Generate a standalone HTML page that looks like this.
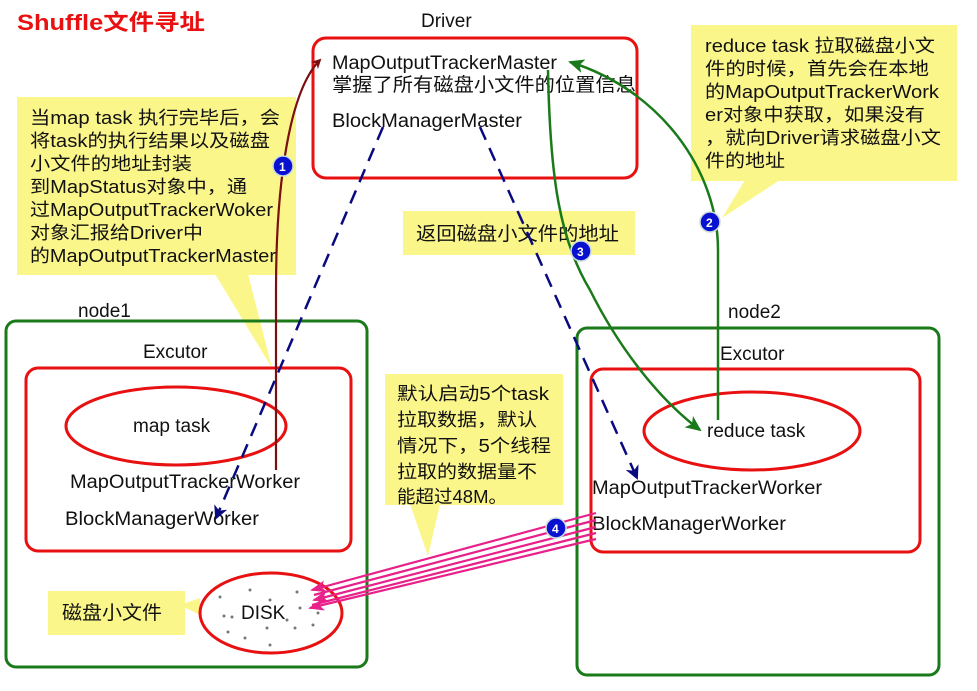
<!DOCTYPE html>
<html><head><meta charset="utf-8"><style>
html,body{margin:0;padding:0;background:#fff;}
svg{display:block;}
text{font-family:"Liberation Sans","Noto Sans CJK SC",sans-serif;fill:#111;font-size:18px;}
</style></head><body>
<svg width="977" height="691" viewBox="0 0 977 691" xmlns="http://www.w3.org/2000/svg">
<defs>
<marker id="ar" markerWidth="10" markerHeight="10" refX="8" refY="5" orient="auto" markerUnits="userSpaceOnUse"><path d="M0,0 L10,5 L0,10 L3,5 z" fill="#7a1010"/></marker>
<marker id="ab" markerWidth="14" markerHeight="14" refX="12" refY="7" orient="auto" markerUnits="userSpaceOnUse"><path d="M0,0 L14,7 L0,14 L4,7 z" fill="#0a0a80"/></marker>
<marker id="ag" markerWidth="16" markerHeight="14" refX="14" refY="7" orient="auto" markerUnits="userSpaceOnUse"><path d="M0,0 L16,7 L0,14 L4,7 z" fill="#1a7a1a"/></marker>
<marker id="ap" markerWidth="16" markerHeight="12" refX="14" refY="6" orient="auto" markerUnits="userSpaceOnUse"><path d="M0,0 L16,6 L0,12 L4,6 z" fill="#e8208a"/></marker>
</defs>

<text x="17" y="30" textLength="188" lengthAdjust="spacingAndGlyphs" style="font-size:22px;font-weight:bold;fill:#e81010">Shuffle文件寻址</text>

<!-- Driver -->
<text x="421" y="27" style="font-size:19px">Driver</text>
<rect x="313" y="38" width="324" height="140" rx="13" fill="none" stroke="#e81010" stroke-width="3"/>
<text x="332" y="69" textLength="225" lengthAdjust="spacingAndGlyphs" style="font-size:19px">MapOutputTrackerMaster</text>
<text x="332" y="91" textLength="304" lengthAdjust="spacingAndGlyphs" style="font-size:19px">掌握了所有磁盘小文件的位置信息</text>
<text x="332" y="127" textLength="190" lengthAdjust="spacingAndGlyphs" style="font-size:19px">BlockManagerMaster</text>

<!-- left callout -->
<polygon points="215,274 248,274 272,368" fill="#fbf68a"/>
<rect x="17" y="97" width="279" height="178" fill="#fbf68a"/>
<g style="font-size:18px">
<text x="30" y="124" textLength="250" lengthAdjust="spacingAndGlyphs">当map task 执行完毕后，会</text>
<text x="30" y="147" textLength="240" lengthAdjust="spacingAndGlyphs">将task的执行结果以及磁盘</text>
<text x="30" y="170" textLength="162" lengthAdjust="spacingAndGlyphs">小文件的地址封装</text>
<text x="30" y="193" textLength="217" lengthAdjust="spacingAndGlyphs">到MapStatus对象中，通</text>
<text x="30" y="216" textLength="243" lengthAdjust="spacingAndGlyphs">过MapOutputTrackerWoker</text>
<text x="30" y="239" textLength="173" lengthAdjust="spacingAndGlyphs">对象汇报给Driver中</text>
<text x="30" y="262" textLength="246" lengthAdjust="spacingAndGlyphs">的MapOutputTrackerMaster</text>
</g>

<!-- right callout -->
<polygon points="745,180 780,180 722,218" fill="#fbf68a"/>
<rect x="691" y="25" width="266" height="156" fill="#fbf68a"/>
<g style="font-size:18px">
<text x="705" y="52" textLength="230" lengthAdjust="spacingAndGlyphs">reduce task 拉取磁盘小文</text>
<text x="705" y="75" textLength="224" lengthAdjust="spacingAndGlyphs">件的时候，首先会在本地</text>
<text x="705" y="98" textLength="234" lengthAdjust="spacingAndGlyphs">的MapOutputTrackerWork</text>
<text x="705" y="121" textLength="220" lengthAdjust="spacingAndGlyphs">er对象中获取，如果没有</text>
<text x="705" y="144" textLength="236" lengthAdjust="spacingAndGlyphs">，就向Driver请求磁盘小文</text>
<text x="705" y="167" textLength="80" lengthAdjust="spacingAndGlyphs">件的地址</text>
</g>

<rect x="403" y="211" width="232" height="44" fill="#fbf68a"/>
<text x="416" y="240" textLength="203" lengthAdjust="spacingAndGlyphs" style="font-size:19px">返回磁盘小文件的地址</text>

<!-- node1 -->
<text x="78" y="317" style="font-size:19px">node1</text>
<rect x="6" y="321" width="361" height="346" rx="10" fill="none" stroke="#1a7a1a" stroke-width="3"/>
<text x="143" y="358" style="font-size:19px">Excutor</text>
<rect x="26" y="368" width="325" height="183" rx="12" fill="none" stroke="#e81010" stroke-width="3"/>
<ellipse cx="176" cy="426" rx="110" ry="39" fill="none" stroke="#e81010" stroke-width="3"/>
<text x="133" y="432" style="font-size:19px">map task</text>
<text x="70" y="488" textLength="230" lengthAdjust="spacingAndGlyphs" style="font-size:19px">MapOutputTrackerWorker</text>
<text x="65" y="525" textLength="194" lengthAdjust="spacingAndGlyphs" style="font-size:19px">BlockManagerWorker</text>

<!-- node2 -->
<text x="728" y="318" style="font-size:19px">node2</text>
<rect x="577" y="328" width="362" height="347" rx="10" fill="none" stroke="#1a7a1a" stroke-width="3"/>
<text x="720" y="360" style="font-size:19px">Excutor</text>
<rect x="591" y="369" width="329" height="183" rx="12" fill="none" stroke="#e81010" stroke-width="3"/>
<ellipse cx="752" cy="431" rx="108" ry="39" fill="none" stroke="#e81010" stroke-width="3"/>
<text x="707" y="437" style="font-size:19px">reduce task</text>
<text x="592" y="494" textLength="230" lengthAdjust="spacingAndGlyphs" style="font-size:19px">MapOutputTrackerWorker</text>
<text x="592" y="530" textLength="194" lengthAdjust="spacingAndGlyphs" style="font-size:19px">BlockManagerWorker</text>

<!-- middle callout -->
<polygon points="410,504 440,504 428,556" fill="#fbf68a"/>
<rect x="385" y="374" width="178" height="131" fill="#fbf68a"/>
<g style="font-size:18px">
<text x="397" y="400" textLength="152" lengthAdjust="spacingAndGlyphs">默认启动5个task</text>
<text x="397" y="426" textLength="140" lengthAdjust="spacingAndGlyphs">拉取数据，默认</text>
<text x="397" y="452" textLength="154" lengthAdjust="spacingAndGlyphs">情况下，5个线程</text>
<text x="397" y="478" textLength="140" lengthAdjust="spacingAndGlyphs">拉取的数据量不</text>
<text x="397" y="503" textLength="110" lengthAdjust="spacingAndGlyphs">能超过48M。</text>
</g>

<!-- disk -->
<polygon points="180,605 200,598 200,615" fill="#fbf68a"/>
<rect x="48" y="591" width="137" height="44" fill="#fbf68a"/>
<text x="62" y="619" textLength="100" lengthAdjust="spacingAndGlyphs" style="font-size:19px">磁盘小文件</text>
<ellipse cx="271" cy="613" rx="71" ry="40" fill="#fff" stroke="#e81010" stroke-width="3"/>
<text x="241" y="619" style="font-size:19px">DISK</text>
<g fill="#777">
<circle cx="220" cy="597" r="1.5"/><circle cx="250" cy="590" r="1.5"/><circle cx="270" cy="600" r="1.5"/><circle cx="297" cy="592" r="1.5"/><circle cx="300" cy="608" r="1.5"/><circle cx="318" cy="613" r="1.5"/><circle cx="224" cy="616" r="1.5"/><circle cx="232" cy="617" r="1.5"/><circle cx="228" cy="632" r="1.5"/><circle cx="245" cy="638" r="1.5"/><circle cx="267" cy="628" r="1.5"/><circle cx="270" cy="645" r="1.5"/><circle cx="295" cy="628" r="1.5"/><circle cx="313" cy="625" r="1.5"/><circle cx="287" cy="620" r="1.5"/>
</g>

<!-- connectors -->
<path d="M276,470 L276,290 C276,180 290,90 320,60" fill="none" stroke="#7a1010" stroke-width="2.2" marker-end="url(#ar)"/>
<line x1="383" y1="127" x2="216" y2="518" stroke="#0a0a80" stroke-width="2.5" stroke-dasharray="14,9" marker-end="url(#ab)"/>
<line x1="480" y1="127" x2="637" y2="478" stroke="#0a0a80" stroke-width="2.5" stroke-dasharray="14,9" marker-end="url(#ab)"/>
<path d="M718,420 L718,250 C718,170 660,90 570,62" fill="none" stroke="#1a7a1a" stroke-width="2.5" marker-end="url(#ag)"/>
<path d="M548,70 C550,180 560,240 590,290 C620,350 660,400 700,430" fill="none" stroke="#1a7a1a" stroke-width="2.5" marker-end="url(#ag)"/>
<g stroke="#e8208a" stroke-width="2.2" fill="none">
<line x1="596" y1="513" x2="312" y2="590" marker-end="url(#ap)"/>
<line x1="596" y1="520" x2="314" y2="595"/>
<line x1="596" y1="527" x2="314" y2="600" marker-end="url(#ap)"/>
<line x1="596" y1="533" x2="312" y2="605"/>
<line x1="596" y1="539" x2="310" y2="608" marker-end="url(#ap)"/>
</g>

<!-- badges -->
<circle cx="283" cy="166" r="10" fill="#0a10d0" stroke="#cdd" stroke-width="1.5"/><text x="279" y="171" style="fill:#fff;font-size:12px;font-weight:bold">1</text>
<circle cx="710" cy="222" r="10" fill="#0a10d0" stroke="#cdd" stroke-width="1.5"/><text x="706" y="227" style="fill:#fff;font-size:12px;font-weight:bold">2</text>
<circle cx="581" cy="251" r="10" fill="#0a10d0" stroke="#cdd" stroke-width="1.5"/><text x="577" y="256" style="fill:#fff;font-size:12px;font-weight:bold">3</text>
<circle cx="556" cy="528" r="10" fill="#0a10d0" stroke="#cdd" stroke-width="1.5"/><text x="552" y="533" style="fill:#fff;font-size:12px;font-weight:bold">4</text>
</svg>
</body></html>
